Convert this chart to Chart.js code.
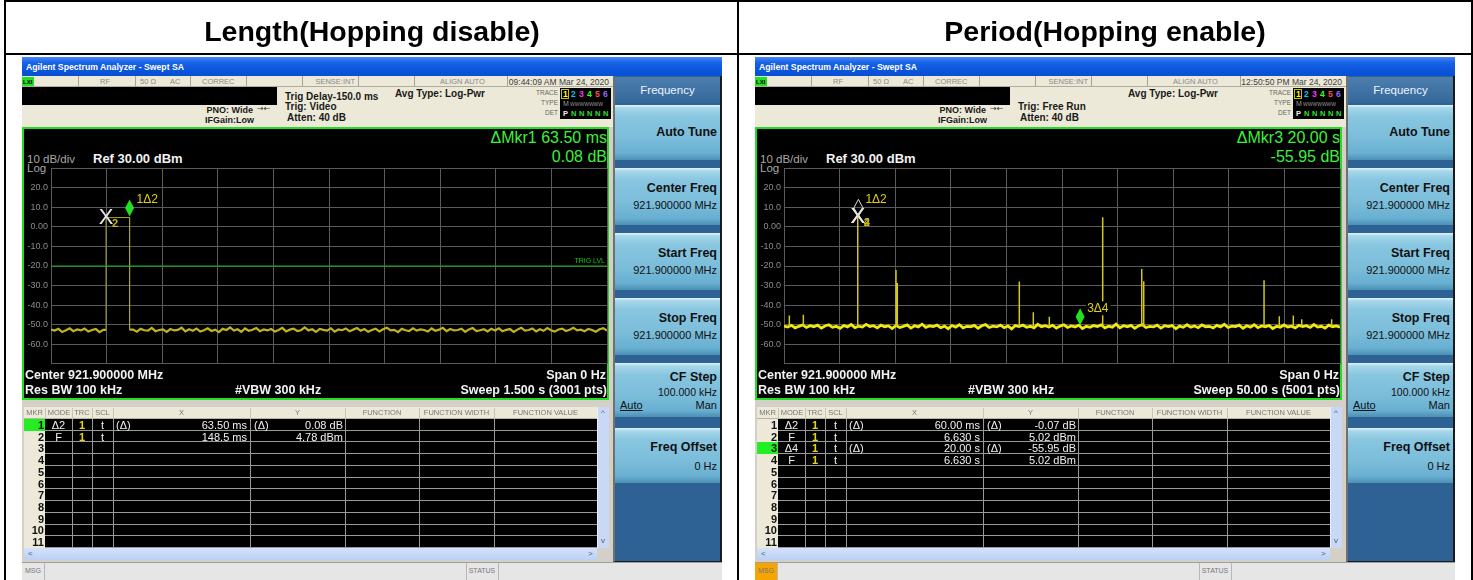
<!DOCTYPE html>
<html>
<head>
<meta charset="utf-8">
<title>Length / Period</title>
<script src="https://cdn.jsdelivr.net/npm/chart.js@4.4.1/dist/chart.umd.min.js"></script>
<style>
  html, body { margin: 0; background: #fff; }
  #page { position: relative; width: 1473px; height: 580px; overflow: hidden; background: #fff; font-family: "Liberation Sans", Arial, sans-serif; }
  .ab { position: absolute; white-space: nowrap; box-sizing: border-box; }
  .key { background: linear-gradient(#e2f3fb 0, #a6d7ea 3px, #88c6e0 12px, #7bbdda 60%, #68afd1 88%, #4b90b5 100%); }
</style>
</head>
<body>
<div id="page"></div>
<script>
// ---- data ----
const yTicks = [20, 10, 0, -10, -20, -30, -40, -50, -60];

// left: zero span, 1.5 s sweep, one 63.5 ms burst
const leftSweep = 1.5;
const leftNoise = [
  -52.6,-53.1,-52.2,-53.8,-52.9,-51.9,-53.4,-52.5,-53.0,-52.1,
  -53.6,-52.8,-52.3,-53.9,-52.7,-51.8,-53.2,-52.4,-53.5,-52.9,
  -52.0,-53.3,-52.6,-53.7,-52.2,-52.9,-53.1,-51.7,-53.4,-52.8,
  -52.5,-53.8,-52.3,-53.0,-52.7,-51.6,-53.5,-52.4,-53.2,-52.1,
  -53.6,-52.9,-51.9,-53.3,-52.6,-53.9,-52.2,-52.8,-51.5,-53.1,
  -52.4,-53.7,-52.0,-53.2,-52.7,-51.8,-53.4,-52.5,-53.0,-52.3,
  -53.6,-52.8,-51.7,-53.5,-52.6,-52.1,-53.3,-52.9,-51.4,-53.0,
  -52.4,-53.8,-52.2,-52.7,-53.1,-51.9,-53.6,-52.5,-52.9,-52.0,
  -53.4,-52.6,-51.8,-53.2,-52.3,-53.7,-52.8,-52.1,-53.5,-52.4,
  -51.6,-53.0,-52.7,-53.9,-52.2,-52.9,-53.3,-51.9,-53.1,-52.5,
  -52.8,-53.6,-52.0,-53.2,-52.6,-51.7,-53.4,-52.3,-53.0,-52.8,
  -52.1,-53.7,-52.5,-51.8,-53.3,-52.9,-52.4,-53.5,-52.2,-53.0,
  -51.9,-53.4,-52.7,-52.3,-53.8,-52.6,-51.6,-53.1,-52.8,-52.0,
  -53.5,-52.4,-53.2,-51.8,-52.9,-53.6,-52.5,-52.1,-53.3,-52.7,
  -51.7,-53.0,-52.6,-53.4,-52.2,-52.8,-53.7,-52.4,-51.9,-53.1
];
const leftPulseTimes = [0.1485, 0.212];
const leftPulseLevels = [4.78, 4.86];
const leftTrigLevel = -20;
const leftMarkers = [
  { kind: 'x', t: 0.1485, v: 4.78, label: '2' },
  { kind: 'diamond', t: 0.212, v: 4.86, label: '1Δ2' }
];
const leftRows = [
  ['1', 'Δ2', '1', 't', '(Δ)', '63.50 ms', '(Δ)', '0.08 dB'],
  ['2', 'F', '1', 't', '', '148.5 ms', '', '4.78 dBm']
];

// right: zero span, 50 s sweep, hopping bursts
const rightSweep = 50;
const rightNoise = [
  -50.8,-51.3,-50.4,-51.7,-50.9,-50.2,-51.5,-50.6,-51.1,-50.3,
  -51.8,-50.7,-50.1,-51.4,-50.9,-51.9,-50.5,-51.2,-50.0,-51.6,
  -50.8,-51.3,-49.9,-51.0,-50.6,-51.7,-50.3,-51.1,-50.7,-52.0,
  -50.4,-51.5,-50.9,-50.2,-51.8,-50.6,-51.2,-49.8,-51.4,-50.7,
  -51.0,-50.3,-51.6,-50.8,-52.1,-50.5,-51.3,-50.1,-51.7,-50.9,
  -51.1,-50.4,-51.9,-50.6,-50.0,-51.5,-50.8,-51.2,-50.3,-51.6,
  -50.7,-52.2,-50.5,-51.0,-50.2,-51.4,-50.9,-51.7,-49.9,-51.1,
  -50.6,-51.3,-50.4,-51.8,-50.8,-50.1,-51.5,-50.7,-51.2,-50.3,
  -52.0,-50.9,-51.4,-50.5,-51.0,-50.2,-51.7,-50.8,-51.3,-49.8,
  -51.6,-50.6,-51.1,-50.4,-51.9,-50.7,-50.0,-51.5,-50.9,-51.2,
  -50.3,-51.8,-50.6,-51.0,-50.5,-52.1,-50.8,-51.4,-50.1,-51.3,
  -50.7,-51.6,-50.2,-51.1,-50.9,-51.7,-50.4,-51.2,-49.9,-51.5,
  -50.8,-51.0,-50.3,-51.9,-50.6,-51.3,-50.1,-51.6,-50.7,-51.1,
  -50.5,-52.0,-50.9,-51.4,-50.2,-51.2,-50.8,-51.7,-50.4,-51.0,
  -50.6,-51.5,-50.0,-51.3,-50.9,-51.8,-50.3,-51.1,-50.7,-51.4
];
const rightSpikeTimes = [0.48, 1.74, 6.63, 10.07, 10.19, 21.16, 22.42, 23.86, 28.66, 32.17, 32.35, 43.17, 44.54, 45.80, 46.56, 49.25];
const rightSpikePeaks = [-45.3, -45.0, 5.02, -22.0, -28.7, -28.0, -43.7, -46.0, 5.0, -21.5, -27.8, -27.3, -45.8, -45.3, -47.3, -47.3];
const rightSpikeBase = -51;
const rightMarkers = [
  { kind: 'x', t: 6.63, v: 5.02, label: '4' },
  { kind: 'x', t: 6.63, v: 5.02, label: '2' },
  { kind: 'hollow', t: 6.69, v: 4.95, label: '1Δ2' },
  { kind: 'diamond', t: 26.63, v: -50.9, label: '3Δ4' }
];
const rightRows = [
  ['1', 'Δ2', '1', 't', '(Δ)', '60.00 ms', '(Δ)', '-0.07 dB'],
  ['2', 'F', '1', 't', '', '6.630 s', '', '5.02 dBm'],
  ['3', 'Δ4', '1', 't', '(Δ)', '20.00 s', '(Δ)', '-55.95 dB'],
  ['4', 'F', '1', 't', '', '6.630 s', '', '5.02 dBm']
];

// ---- helpers ----
const page = document.getElementById('page');
const F = '"Liberation Sans", Arial, sans-serif';

function box(parent, x, y, w, h, css) {
  const d = document.createElement('div');
  d.className = 'ab';
  d.style.cssText = `left:${x}px;top:${y}px;width:${w}px;height:${h}px;` + (css || '');
  parent.appendChild(d);
  return d;
}

function txt(parent, x, y, s, font, color, align) {
  const d = document.createElement('div');
  d.className = 'ab';
  d.textContent = s;
  let css = `font:${font};line-height:20px;top:${y - 10}px;height:20px;color:${color};`;
  if (align === 'r') css += `left:${x - 400}px;width:400px;text-align:right;`;
  else if (align === 'c') css += `left:${x - 200}px;width:400px;text-align:center;`;
  else css += `left:${x}px;`;
  d.style.cssText = css;
  parent.appendChild(d);
  return d;
}

const sweepPoints = (values, span) => values.map((v, i) => ({ x: i * span / (values.length - 1), y: v }));

// markers, labels and trig line text drawn on top of the traces
const markerPlugin = {
  id: 'mkrs',
  afterDatasetsDraw(chart, args, opts) {
    const { ctx } = chart;
    const xs = chart.scales.x, ys = chart.scales.y;
    ctx.save();
    if (opts.trigLabel) {
      ctx.font = '7px ' + F;
      ctx.fillStyle = '#10c810';
      ctx.textAlign = 'right';
      ctx.textBaseline = 'middle';
      ctx.fillText(opts.trigLabel, chart.chartArea.right - 2, ys.getPixelForValue(opts.trigLevel) - 5);
    }
    for (const m of opts.list || []) {
      const px = xs.getPixelForValue(m.t), py = ys.getPixelForValue(m.v);
      if (m.kind === 'x') {
        ctx.font = '22px ' + F;
        ctx.fillStyle = '#e8e8e8';
        ctx.textAlign = 'center';
        ctx.textBaseline = 'middle';
        ctx.fillText('X', px, py);
        ctx.font = 'bold 11px ' + F;
        ctx.fillStyle = '#c8b814';
        ctx.textAlign = 'left';
        ctx.fillText(m.label, px + 6, py + 6);
      } else {
        ctx.beginPath();
        ctx.moveTo(px, py - 1);
        ctx.lineTo(px + 4.5, py - 9.5);
        ctx.lineTo(px, py - 18);
        ctx.lineTo(px - 4.5, py - 9.5);
        ctx.closePath();
        if (m.kind === 'diamond') {
          ctx.fillStyle = '#22e022';
          ctx.fill();
        } else {
          ctx.strokeStyle = '#d8d8d8';
          ctx.lineWidth = 1;
          ctx.stroke();
        }
        ctx.font = '12px ' + F;
        const w = ctx.measureText(m.label).width;
        ctx.fillStyle = '#000';
        ctx.fillRect(px + 6, py - 25, w + 3, 14);
        ctx.fillStyle = '#e0d010';
        ctx.textAlign = 'left';
        ctx.textBaseline = 'middle';
        ctx.fillText(m.label, px + 7, py - 18);
      }
    }
    ctx.restore();
  }
};

function makeChart(canvas, datasets, span, markers, trig) {
  const gridColor = '#5a5a5a';
  return new Chart(canvas, {
    type: 'line',
    data: { datasets },
    options: {
      animation: false,
      responsive: false,
      maintainAspectRatio: false,
      layout: { padding: { left: 0, right: 2, top: 6, bottom: 6 } },
      elements: { point: { radius: 0 }, line: { tension: 0, borderJoinStyle: 'miter' } },
      plugins: {
        legend: { display: false },
        tooltip: { enabled: false },
        mkrs: { list: markers, trigLabel: trig ? 'TRIG LVL' : null, trigLevel: trig }
      },
      scales: {
        x: {
          type: 'linear', min: 0, max: span,
          ticks: { display: false, count: 11 },
          grid: { color: gridColor, drawTicks: false },
          border: { color: gridColor },
          afterFit(s) { s.height = 0; }
        },
        y: {
          min: -70, max: 30,
          ticks: {
            stepSize: 10, padding: 3, color: '#8c8c8c',
            font: { size: 9, family: F },
            callback: v => yTicks.includes(v) ? (v === 0 ? '0.00' : v.toFixed(1)) : ''
          },
          grid: { color: gridColor, drawTicks: false },
          border: { color: gridColor },
          afterFit(s) { s.width = 27; }
        }
      }
    },
    plugins: [markerPlugin]
  });
}

// ---- one analyzer screenshot ----
function buildPanel(cfg) {
  const p = box(page, cfg.left, 57, 700, 523, 'background:#d4d0c8;overflow:hidden;');

  // title bar
  box(p, 0, 0, 700, 19, 'background:linear-gradient(#4a88f4 0,#1862e6 30%,#0a55dc 70%,#0a4fd0 100%);');
  txt(p, 4, 9.5, 'Agilent Spectrum Analyzer - Swept SA', 'bold 8.7px ' + F, '#fff');

  // status row
  box(p, 0, 19, 591, 11, 'background:#ece9d8;border-bottom:1px solid #b0aca0;');
  box(p, 0, 20, 12, 9, 'background:#22e022;');
  txt(p, 1, 24.5, 'LXI', 'bold 6px ' + F, '#000');
  [56, 113, 168, 224, 280, 336, 392, 485].forEach(sx => box(p, sx, 19, 1, 11, 'background:#a8a496;'));
  const sf = '7.5px ' + F, sc = '#8a8a8a';
  txt(p, 78, 24.5, 'RF', sf, sc);
  txt(p, 118, 24.5, '50 Ω', sf, sc);
  txt(p, 148, 24.5, 'AC', sf, sc);
  txt(p, 180, 24.5, 'CORREC', sf, sc);
  txt(p, 333, 24.5, 'SENSE:INT', sf, sc, 'r');
  txt(p, 418, 24.5, 'ALIGN AUTO', sf, sc);
  txt(p, 587, 24.5, cfg.clock, '8.5px ' + F, '#404040', 'r');

  // settings area
  box(p, 0, 30, 591, 40, 'background:#ece9d8;');
  box(p, 0, 30, 255, 18, 'background:#000;');
  const bf = 'bold 9px ' + F, bc = '#1a1a1a';
  txt(p, 231, 53, 'PNO: Wide', bf, bc, 'r');
  txt(p, 235, 52, '→←', '8px "DejaVu Sans"', '#333');
  txt(p, 232, 63, 'IFGain:Low', bf, bc, 'r');
  cfg.trig.forEach((s, i) => txt(p, 263, cfg.trigY[i], s, 'bold 10px ' + F, bc));
  txt(p, 265, 61, 'Atten: 40 dB', 'bold 10px ' + F, bc);
  txt(p, 373, 37, 'Avg Type: Log-Pwr', 'bold 10px ' + F, bc);

  // trace info block
  const tf = '6.5px ' + F;
  txt(p, 536, 36, 'TRACE', tf, '#666', 'r');
  txt(p, 536, 46, 'TYPE', tf, '#666', 'r');
  txt(p, 536, 56, 'DET', tf, '#666', 'r');
  box(p, 538, 31, 51, 31, 'background:#000;');
  box(p, 539, 32, 8, 10, 'border:1px solid #c8c000;');
  const trColors = ['#ffff00', '#00c8ff', '#ff30ff', '#30ff30', '#ff5050', '#8a6cff'];
  trColors.forEach((c, i) => txt(p, 541 + i * 8, 37, String(i + 1), 'bold 8.5px ' + F, c));
  txt(p, 541, 47, 'M', '7px ' + F, '#9a9a9a');
  txt(p, 548, 47, 'WWWWWWW', '5px ' + F, '#9a9a9a');
  txt(p, 541, 56.5, 'P', 'bold 7.5px ' + F, '#f0f0f0');
  for (let i = 0; i < 5; i++) txt(p, 549 + i * 8, 56.5, 'N', 'bold 7.5px ' + F, '#30e030');

  // soft keys
  box(p, 591, 19, 109, 487, 'background:#2f6294;border-left:2px solid #707070;border-right:2px solid #1a1a1a;border-bottom:2px solid #1a1a1a;');
  box(p, 593, 20, 105, 26, 'background:linear-gradient(#4c7eae,#35689a);');
  txt(p, 645.5, 33, 'Frequency', '11.5px ' + F, '#eef4ff', 'c');
  const keys = [
    { top: 48, h: 55, title: 'Auto Tune', ty: 27 },
    { top: 111, h: 57, title: 'Center Freq', ty: 20, sub: '921.900000 MHz', sy: 37 },
    { top: 176, h: 57, title: 'Start Freq', ty: 20, sub: '921.900000 MHz', sy: 37 },
    { top: 241, h: 57, title: 'Stop Freq', ty: 20, sub: '921.900000 MHz', sy: 37 },
    { top: 306, h: 54, title: 'CF Step', ty: 14, sub: '100.000 kHz', sy: 29, auto: true },
    { top: 371, h: 55, title: 'Freq Offset', ty: 19, sub: '0 Hz', sy: 38 }
  ];
  keys.forEach(k => {
    box(p, 593, k.top, 105, k.h, '').className = 'ab key';
    txt(p, 695, k.top + k.ty, k.title, 'bold 12.5px ' + F, '#111', 'r');
    if (k.sub) txt(p, 695, k.top + k.sy, k.sub, (k.auto ? '10.5px ' : '11px ') + F, '#111', 'r');
    if (k.auto) {
      txt(p, 598, k.top + 42, 'Auto', '11px ' + F, '#111').style.textDecoration = 'underline';
      txt(p, 695, k.top + 42, 'Man', '11px ' + F, '#111', 'r');
    }
  });

  // graticule frame
  box(p, 0, 70, 587, 273, 'background:#000;border:2px solid #22dd22;');
  txt(p, 585, 81, cfg.mkr[0], '16px ' + F, '#3cf03c', 'r');
  txt(p, 585, 100, cfg.mkr[1], '16px ' + F, '#3cf03c', 'r');
  txt(p, 5, 102, '10 dB/div', '11.5px ' + F, '#a8a8a8');
  txt(p, 71, 102, 'Ref 30.00 dBm', 'bold 13px ' + F, '#f2f2f2');
  txt(p, 5, 111, 'Log', '11.5px ' + F, '#a8a8a8');

  const cv = document.createElement('canvas');
  cv.width = 585; cv.height = 212;
  cv.className = 'ab';
  cv.style.cssText = 'left:2px;top:103px;width:585px;height:212px;';
  p.appendChild(cv);
  makeChart(cv, cfg.datasets, cfg.span, cfg.markers, cfg.trigLevel);

  const wf = 'bold 12.5px ' + F, wc = '#f2f2f2';
  txt(p, 3, 318, 'Center 921.900000 MHz', wf, wc);
  txt(p, 3, 333, 'Res BW 100 kHz', wf, wc);
  txt(p, 213, 333, '#VBW 300 kHz', wf, wc);
  txt(p, 584, 318, 'Span 0 Hz', wf, wc, 'r');
  txt(p, 585, 333, cfg.sweep, wf, wc, 'r');

  // marker table
  box(p, 2, 350, 585, 12, 'background:#ece9d8;border-bottom:1px solid #b8b4a8;');
  const hf = '7.5px ' + F, hc = '#777';
  [[12.5, 'MKR'], [37, 'MODE'], [60, 'TRC'], [80.5, 'SCL'], [159.5, 'X'], [275.5, 'Y'],
   [360, 'FUNCTION'], [434.5, 'FUNCTION WIDTH'], [523.5, 'FUNCTION VALUE']]
    .forEach(([cx, s]) => txt(p, cx, 356, s, hf, hc, 'c'));
  [23, 50, 70, 91, 228, 323, 397, 472].forEach(cx => box(p, cx, 351, 1, 11, 'background:#c8c4b8;'));

  const rowH = 11.73, rowTop = 362;
  box(p, 23, rowTop, 552, rowH * 11, 'background:#000;');
  const rf = '11px ' + F;
  for (let i = 0; i < 11; i++) {
    const top = rowTop + i * rowH, cy = top + rowH / 2;
    box(p, 2, top, 21, rowH, i === cfg.activeRow ? 'background:#22ee22;' : 'background:#ece9d8;');
    txt(p, 22, cy, String(i + 1), 'bold 11px ' + F, '#111', 'r');
    box(p, 23, top + rowH - 1, 552, 1, 'background:#9a9a9a;');
    const r = cfg.rows[i];
    if (r) {
      txt(p, 36.5, cy, r[1], rf, '#f0f0f0', 'c');
      txt(p, 60, cy, r[2], 'bold 11px ' + F, '#e8d800', 'c');
      txt(p, 80.5, cy, r[3], rf, '#f0f0f0', 'c');
      txt(p, 94, cy, r[4], rf, '#f0f0f0');
      txt(p, 225, cy, r[5], rf, '#f0f0f0', 'r');
      txt(p, 232, cy, r[6], rf, '#f0f0f0');
      txt(p, 321, cy, r[7], rf, '#f0f0f0', 'r');
    }
  }
  [50, 70, 91, 228, 323, 397, 472].forEach(cx => box(p, cx, rowTop, 1, rowH * 11, 'background:#9a9a9a;'));
  box(p, 575, 350, 12, 141, 'background:#c9d8f5;border-left:1px solid #e8eefc;');
  txt(p, 581, 356, '^', '8px ' + F, '#557', 'c');
  txt(p, 581, 484, 'v', '8px ' + F, '#557', 'c');
  box(p, 2, 491, 573, 12, 'background:linear-gradient(#d4e2fb,#bcd0f4);');
  txt(p, 6, 497, '<', '8px ' + F, '#557');
  txt(p, 566, 497, '>', '8px ' + F, '#557');

  // bottom status bar
  box(p, 0, 505, 700, 18, 'background:#e6e6e6;border-top:1px solid #a0a0a0;');
  if (cfg.msgAlert) box(p, 0, 506, 22, 17, 'background:#f5a400;');
  [22, 444, 476].forEach(cx => box(p, cx, 506, 1, 17, 'background:#b8b8b8;'));
  txt(p, 3, 514, 'MSG', '7px ' + F, '#777');
  txt(p, 460, 514, 'STATUS', '7px ' + F, '#777', 'c');
}

// ---- traces ----
const leftNoisePts = sweepPoints(leftNoise, leftSweep);
const before = leftNoisePts.filter(pt => pt.x < leftPulseTimes[0]);
const after = leftNoisePts.filter(pt => pt.x > leftPulseTimes[1]);
const baseBefore = before[before.length - 1].y, baseAfter = after[0].y;
const leftNoiseTrace = [
  ...before,
  { x: leftPulseTimes[0], y: baseBefore },
  { x: (leftPulseTimes[0] + leftPulseTimes[1]) / 2, y: null },
  { x: leftPulseTimes[1], y: baseAfter },
  ...after
];
const leftPulseTrace = [
  { x: leftPulseTimes[0], y: baseBefore },
  { x: leftPulseTimes[0], y: leftPulseLevels[0] },
  { x: leftPulseTimes[1], y: leftPulseLevels[1] },
  { x: leftPulseTimes[1], y: baseAfter }
];

const spikePts = [];
rightSpikeTimes.forEach((t, i) => {
  spikePts.push({ x: t, y: rightSpikeBase }, { x: t, y: rightSpikePeaks[i] }, { x: t, y: null });
});

buildPanel({
  left: 22,
  clock: '09:44:09 AM Mar 24, 2020',
  trig: ['Trig Delay-150.0 ms', 'Trig: Video'],
  trigY: [40, 50],
  mkr: ['ΔMkr1 63.50 ms', '0.08 dB'],
  sweep: 'Sweep  1.500 s (3001 pts)',
  span: leftSweep,
  markers: leftMarkers,
  trigLevel: leftTrigLevel,
  rows: leftRows,
  activeRow: 0,
  msgAlert: false,
  datasets: [
    { data: [{ x: 0, y: leftTrigLevel }, { x: leftSweep, y: leftTrigLevel }], borderColor: '#10b010', borderWidth: 1 },
    { data: leftPulseTrace, borderColor: '#aaa226', borderWidth: 1 },
    { data: leftNoiseTrace, borderColor: '#bdb420', borderWidth: 2.2, spanGaps: false }
  ]
});

buildPanel({
  left: 755,
  clock: '12:50:50 PM Mar 24, 2020',
  trig: ['Trig: Free Run'],
  trigY: [50],
  mkr: ['ΔMkr3 20.00 s', '-55.95 dB'],
  sweep: 'Sweep  50.00 s (5001 pts)',
  span: rightSweep,
  markers: rightMarkers,
  trigLevel: null,
  rows: rightRows,
  activeRow: 2,
  msgAlert: true,
  datasets: [
    { data: spikePts, borderColor: '#d4c81c', borderWidth: 1.5, spanGaps: false },
    { data: sweepPoints(rightNoise, rightSweep), borderColor: '#f0e812', borderWidth: 2.8 }
  ]
});

// ---- outer table frame and titles ----
box(page, 4, 0, 1469, 580, 'border:2px solid #000;border-bottom:none;');
box(page, 4, 53, 1469, 2, 'background:#000;');
box(page, 737, 0, 2, 580, 'background:#000;');
txt(page, 372, 31, 'Length(Hopping disable)', 'bold 28.5px ' + F, '#000', 'c');
txt(page, 1105, 31, 'Period(Hopping enable)', 'bold 28.5px ' + F, '#000', 'c');
</script>
</body>
</html>
